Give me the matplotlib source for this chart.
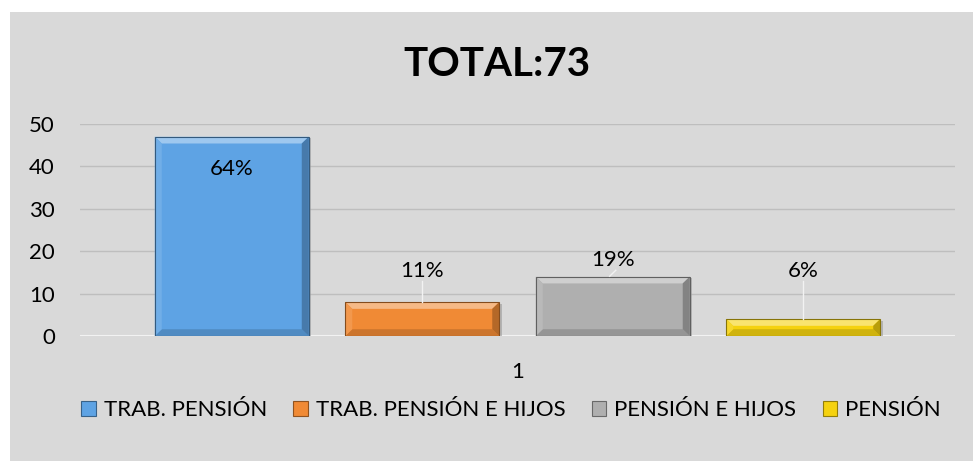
import matplotlib.pyplot as plt
import matplotlib.colors as mcolors
from matplotlib.patches import Rectangle, Polygon

plt.rcParams['font.family'] = ['Lato', 'DejaVu Sans']

CATEGORIES = ["TRAB. PENSIÓN", "TRAB. PENSIÓN E HIJOS", "PENSIÓN E HIJOS", "PENSIÓN"]
VALUES = [47, 8, 14, 4]
PCT_LABELS = ["64%", "11%", "19%", "6%"]
COLORS = ["#5EA3E4", "#F08A35", "#AFAFAF", "#F5D20F"]
TITLE = "TOTAL:73"
X_TICK = "1"

BG = "#D9D9D9"
FS = 16


def shade(color, f):
    r, g, b = mcolors.to_rgb(color)
    if f > 0:
        return (r + (1 - r) * f, g + (1 - g) * f, b + (1 - b) * f)
    return (r * (1 + f), g * (1 + f), b * (1 + f))


def bevel_bar(ax, x, w, h, color, bx, by):
    # bevelled bar drawn from its value: face + four edge trapezoids
    x0, x1 = x - w / 2, x + w / 2
    ax.add_patch(Rectangle((x0 + 0.003, -0.35), w, h, facecolor="#9A9A9A",
                           edgecolor="none", alpha=0.6, zorder=2))
    ax.add_patch(Rectangle((x0, 0), w, h, facecolor=color, edgecolor="none", zorder=3))
    bb = min(by, h / 2)
    top = Polygon([(x0, h), (x1, h), (x1 - bx, h - bb), (x0 + bx, h - bb)],
                  facecolor=shade(color, 0.4), edgecolor="none", zorder=4)
    bot = Polygon([(x0, 0), (x1, 0), (x1 - bx, bb), (x0 + bx, bb)],
                  facecolor=shade(color, -0.15), edgecolor="none", zorder=4)
    left = Polygon([(x0, 0), (x0, h), (x0 + bx, h - bb), (x0 + bx, bb)],
                   facecolor=shade(color, 0.12), edgecolor="none", zorder=4)
    right = Polygon([(x1, 0), (x1, h), (x1 - bx, h - bb), (x1 - bx, bb)],
                    facecolor=shade(color, -0.25), edgecolor="none", zorder=4)
    for p in (top, bot, left, right):
        ax.add_patch(p)
    ax.add_patch(Rectangle((x0, 0), w, h, facecolor="none",
                           edgecolor=shade(color, -0.45), linewidth=0.8, zorder=5))


fig = plt.figure(figsize=(9.73, 4.61), dpi=100)
fig.patch.set_facecolor("white")
fig.add_artist(Rectangle((10 / 973, 0), 1, 1 - 12 / 461, transform=fig.transFigure,
                         facecolor=BG, edgecolor="none", zorder=0))

ax = fig.add_axes([80 / 973, 1 - 336 / 461, 875 / 973, 212 / 461])
ax.set_facecolor("none")
ax.set_xlim(0.5, 1.5)
ax.set_ylim(0, 50)
ax.set_yticks(range(0, 51, 10))
ax.set_xticks([1])
ax.set_xticklabels([X_TICK])
ax.tick_params(length=0, labelsize=FS, colors="#000000")
ax.tick_params(axis="x", pad=19)
ax.tick_params(axis="y", pad=18)
for s in ax.spines.values():
    s.set_visible(False)
for v in range(10, 51, 10):
    ax.axhline(v, color="#BEBEBE", linewidth=1, zorder=1)
ax.axhline(0, color="#F2F2F2", linewidth=1.5, zorder=1)

step = 0.2177
width = 0.176
n = len(VALUES)
centers = [1 + (i - (n - 1) / 2) * step for i in range(n)]
bx = 7 / 875
by = 1.6
handles = []
for c, v, col, lab in zip(centers, VALUES, COLORS, CATEGORIES):
    bevel_bar(ax, c, width, v, col, bx, by)
    handles.append(Rectangle((0, 0), 1, 1, facecolor=col,
                             edgecolor=shade(col, -0.4), linewidth=0.8, label=lab))

# data labels
label_y = [39.5, 15.4, 17.9, 15.4]
for c, v, ly, t in zip(centers, VALUES, label_y, PCT_LABELS):
    ax.text(c, ly, t, ha="center", va="center", fontsize=FS, zorder=6)
    if ly > v and ly - v > 5:
        ax.plot([c, c], [v + 0.05, ly - 2.4], color="#F2F2F2", linewidth=1, zorder=6)
    elif ly > v:
        ax.plot([c - 0.0035, c + 0.0035], [v + 0.1, ly - 2.4], color="#F2F2F2",
                linewidth=1, zorder=6)

fig.text(497 / 973, 1 - 64 / 461, TITLE, ha="center", va="center",
         fontsize=29, fontweight="bold")

fig.legend(handles=handles, loc="center", bbox_to_anchor=(511 / 973, 1 - 410 / 461),
           ncol=4, frameon=False, fontsize=FS, handlelength=0.65, handleheight=0.65,
           handletextpad=0.35, columnspacing=1.2, borderaxespad=0)

fig.savefig("out.png", dpi=100, facecolor=fig.get_facecolor())
